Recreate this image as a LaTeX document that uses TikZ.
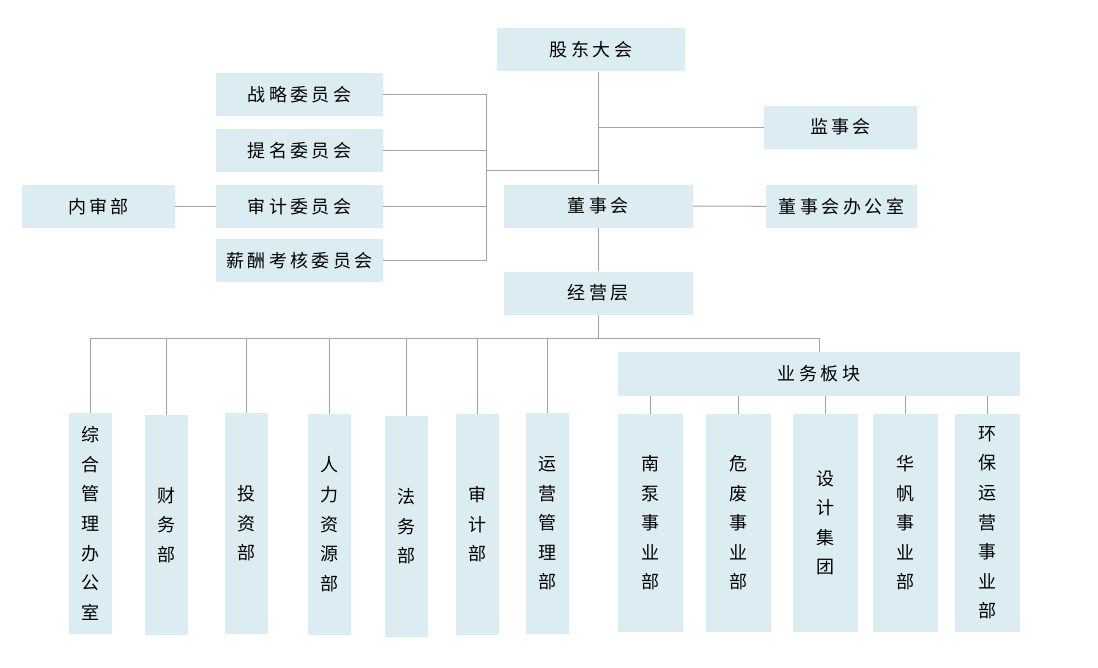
\documentclass[tikz,border=0pt]{standalone}
\usepackage{fontspec}
\setmainfont{Noto Sans CJK SC}
\newfontfamily\cjkls[LetterSpace=19]{Noto Sans CJK SC}
\definecolor{boxblue}{RGB}{219,237,243}
\definecolor{linegray}{RGB}{163,163,163}

\begin{document}
\begin{tikzpicture}[
        x=1pt, y=-1pt,
        box/.style={fill=boxblue, inner sep=0pt, text=black},
        hbox/.style={box, minimum height=43pt, font=\cjkls\fontsize{18}{20}\selectfont},
        vbox/.style={box, align=center, minimum width=43pt, font=\fontsize{18}{29.6}\selectfont},
        bbox/.style={vbox, minimum width=65pt, minimum height=217.7pt},
        link/.style={draw=linegray, line width=1pt}]

    \useasboundingbox (0,0) rectangle (1098,667);

    % --- Órganos de gobierno
    \node[hbox, minimum width=187.7pt] (gddh) at (590.9,49.8)  {股东大会};
    \node[hbox, minimum width=153pt]   (jsh)  at (840.5,127)   {监事会};
    \node[hbox, minimum width=188.7pt] (dsh)  at (598.3,206)   {董事会};
    \node[hbox, minimum width=151pt]   (dbgs) at (841.5,206.3) {董事会办公室};
    \node[hbox, minimum width=188.7pt] (jyc)  at (598.3,293)   {经营层};

    % --- Comités
    \node[hbox, minimum width=167pt] (zlwy) at (299.5,94.3)  {战略委员会};
    \node[hbox, minimum width=167pt] (tmwy) at (299.5,150.3) {提名委员会};
    \node[hbox, minimum width=167pt] (sjwy) at (299.5,206.3) {审计委员会};
    \node[hbox, minimum width=167pt] (xcwy) at (299.5,260.3) {薪酬考核委员会};
    \node[hbox, minimum width=153pt] (nsb)  at (98.5,206.3)  {内审部};

    % --- Departamentos funcionales
    \node[vbox, minimum height=220.7pt] (zhgl) at (90.5,523.3)  {综\\合\\管\\理\\办\\公\\室};
    \node[vbox, minimum height=219.7pt] (cwb)  at (166.8,524.8) {财\\务\\部};
    \node[vbox, minimum height=220.7pt] (tzb)  at (246.4,523.3) {投\\资\\部};
    \node[vbox, minimum height=220.7pt] (rlzy) at (329.4,524.3) {人\\力\\资\\源\\部};
    \node[vbox, minimum height=221pt]   (fwb)  at (406,526.5)   {法\\务\\部};
    \node[vbox, minimum height=220.7pt] (sjb)  at (477.2,524.3) {审\\计\\部};
    \node[vbox, minimum height=220.7pt] (yygl) at (547.2,523.3) {运\\营\\管\\理\\部};

    % --- Segmentos de negocio
    \node[hbox, minimum width=402pt, minimum height=44pt] (ywbk) at (819,374) {业务板块};
    \node[bbox] (nb)   at (650.5,522.8) {南\\泵\\事\\业\\部};
    \node[bbox] (wf)   at (738.5,522.8) {危\\废\\事\\业\\部};
    \node[bbox] (sjjt) at (825.5,522.8) {设\\计\\集\\团};
    \node[bbox] (hf)   at (905.5,522.8) {华\\帆\\事\\业\\部};
    \node[bbox] (hbyy) at (987.5,522.8) {环\\保\\运\\营\\事\\业\\部};

    % --- Conectores superiores
    \coordinate (cbus) at (486.7,170.3);
    \draw[link] (dsh.north) -- (dsh.north |- gddh.south);
    \draw[link] (jsh.west) -- (jsh.west -| dsh.north);
    \draw[link] (zlwy.east) -- (zlwy.east -| cbus) -- (xcwy.east -| cbus) -- (xcwy.east);
    \foreach \n in {tmwy,sjwy}
        \draw[link] (\n.east) -- (\n.east -| cbus);
    \draw[link] (cbus) -- (cbus -| dsh.north);
    \draw[link] (nsb.east) -- (sjwy.west);
    \draw[link] (dsh.east) -- (dbgs.west);
    \draw[link] (dsh.south) -- (jyc.north);

    % --- Conectores inferiores
    \coordinate (bus) at (598.3,338.3);
    \draw[link] (jyc.south) -- (bus);
    \draw[link] (zhgl.north) |- (bus) -| (ywbk.north);
    \foreach \n in {cwb,tzb,rlzy,fwb,sjb,yygl}
        \draw[link] (\n.north) -- (\n.north |- bus);
    \foreach \n in {nb,wf,sjjt,hf,hbyy}
        \draw[link] (\n.north) -- (\n.north |- ywbk.south);

\end{tikzpicture}
\end{document}
